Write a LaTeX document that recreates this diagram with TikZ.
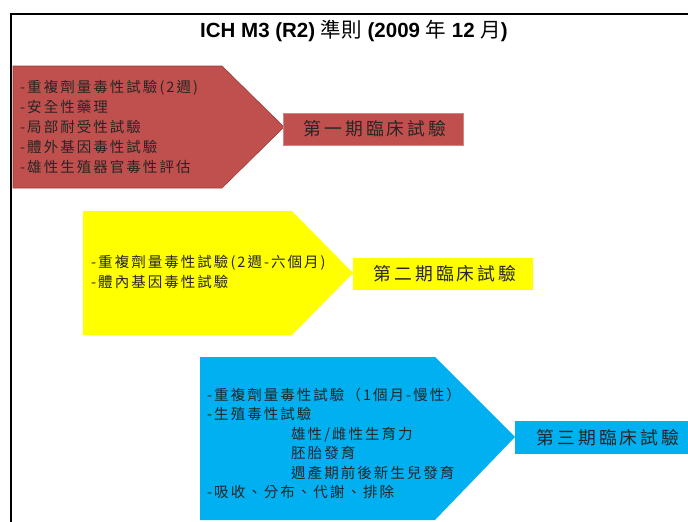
\documentclass[tikz,border=0pt]{standalone}
\usepackage{fontspec}
\setmainfont{Liberation Sans}
\newfontfamily\cjk{Noto Sans CJK TC}
\newfontfamily\cjkbody[LetterSpace=14]{Noto Sans CJK TC}
\newfontfamily\cjklabel[LetterSpace=17]{Noto Sans CJK TC}
\definecolor{phred}{HTML}{C0504D}
\definecolor{phredline}{HTML}{9A3B38}
\definecolor{phyellow}{HTML}{FFFF00}
\definecolor{phblue}{HTML}{00B0F0}
\tikzset{
  bodytext/.style={anchor=west, align=left, inner sep=0pt,
    font=\cjkbody\fontsize{14.5}{20}\selectfont, text=black!85},
  labeltext/.style={inner sep=0pt, font=\cjklabel\fontsize{17.8}{20}\selectfont, text=black!85},
}
\begin{document}
\begin{tikzpicture}[x=1pt,y=-1pt]
\useasboundingbox (0,0) rectangle (688,522);
% frame
\draw[line width=2.2pt] (11,523) -- (11,14) -- (690,14);
% title
\node (title) at (354,31) {\fontsize{20.5}{22}\selectfont\bfseries ICH M3 (R2) {\mdseries\cjk 準則} (2009 {\mdseries\cjk 年} 12 {\mdseries\cjk 月})};
% phase I
\path[fill=phred, draw=phredline, line width=0.6pt] (13,66) -- (222,66) -- (284,127) -- (222,188) -- (13,188) -- cycle;
\path[fill=phred, draw=phred!70!white, line width=0.6pt] (283,113) rectangle (463,145);
\node[bodytext] (p1text) at (20,127) {-重複劑量毒性試驗(2週)\\-安全性藥理\\-局部耐受性試驗\\-體外基因毒性試驗\\-雄性生殖器官毒性評估};
\node[labeltext] (p1) at (375,129) {第一期臨床試驗};
% phase II
\path[fill=phyellow] (83,211) -- (292,211) -- (353,273) -- (292,335) -- (83,335) -- cycle;
\path[fill=phyellow] (353,258) rectangle (533,290);
\node[bodytext] (p2text) at (91,272) {-重複劑量毒性試驗(2週-六個月)\\-體內基因毒性試驗};
\node[labeltext] (p2) at (445,274) {第二期臨床試驗};
% phase III
\path[fill=phblue] (200,357) -- (435,357) -- (515,437) -- (435,520) -- (200,520) -- cycle;
\path[fill=phblue] (515,421) rectangle (690,454);
\node[bodytext, font=\cjkbody\fontsize{14.5}{19.5}\selectfont] (p3text) at (207,443.5) {-重複劑量毒性試驗（1個月-慢性）\\-生殖毒性試驗\\\hspace*{84pt}雄性/雌性生育力\\\hspace*{84pt}胚胎發育\\\hspace*{84pt}週產期前後新生兒發育\\-吸收、分布、代謝、排除};
\node[labeltext] (p3) at (608,438) {第三期臨床試驗};
\end{tikzpicture}
\end{document}
